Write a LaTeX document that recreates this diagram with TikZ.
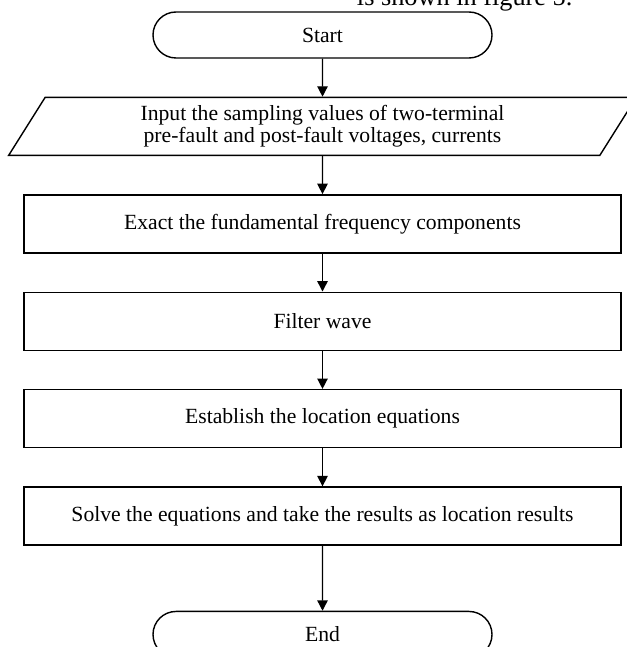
\documentclass[tikz,border=0pt]{standalone}
\usepackage{fontspec}
\setmainfont{Liberation Serif}
\usetikzlibrary{positioning,arrows.meta,shapes.geometric,shapes.misc}

\begin{document}
\begin{tikzpicture}[
  node distance = 0.95cm,
  every node/.style = {font=\fontsize{15.4}{15.8}\selectfont},
  term/.style = {draw, line width=1pt, rounded rectangle, minimum width=8.475cm, minimum height=1.15cm, inner sep=0pt},
  io/.style = {draw, line width=1pt, trapezium, trapezium left angle=60.4, trapezium right angle=119.6, trapezium stretches=true, minimum width=15.75cm, minimum height=1.45cm, inner sep=0pt, align=center},
  proc/.style = {draw, line width=1pt, rectangle, minimum width=14.925cm, minimum height=1.45cm, inner sep=0pt},
  flow/.style = {-{Triangle[length=2.6mm,width=2.6mm]}, line width=1pt}
]
\useasboundingbox (0,0) rectangle (15.65,-16.175);
% text above the chart
\node[anchor=base west, font=\fontsize{18.7}{20}\selectfont] (caption) at (8.8,-0.15) {is shown in figure 5.};
% nodes
\node[term] (start) at (8.0625,-0.875) {Start};
\node[io, below = of start] (input) {Input the sampling values of two-terminal\\pre-fault and post-fault voltages, currents};
\node[proc, below = of input] (exact) {Exact the fundamental frequency components};
\node[proc, below = of exact] (filter) {Filter wave};
\node[proc, below = of filter] (equ) {Establish the location equations};
\node[proc, below = of equ] (solve) {Solve the equations and take the results as location results};
\node[term, below = 1.625cm of solve] (end) {End};
% arrows
\draw[flow] (start) -- (input);
\draw[flow] (input) -- (exact);
\draw[flow] (exact) -- (filter);
\draw[flow] (filter) -- (equ);
\draw[flow] (equ) -- (solve);
\draw[flow] (solve) -- (end);
\end{tikzpicture}
\end{document}
